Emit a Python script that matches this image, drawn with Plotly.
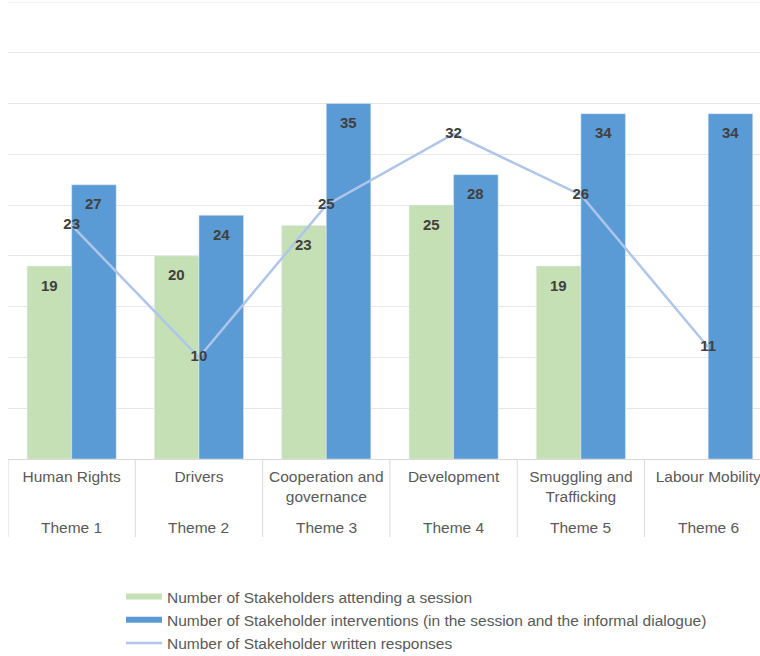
import plotly.graph_objects as go

topics = ["Human Rights", "Drivers", "Cooperation and<br>governance", "Development",
          "Smuggling and<br>Trafficking", "Labour Mobility"]
themes = ["Theme 1", "Theme 2", "Theme 3", "Theme 4", "Theme 5", "Theme 6"]
attending = [19, 20, 23, 25, 19, None]
interventions = [27, 24, 35, 28, 34, 34]
written = [23, 10, 25, 32, 26, 11]

names = ["Number of Stakeholders attending a session",
         "Number of Stakeholder interventions (in the session and the informal dialogue)",
         "Number of Stakeholder written responses"]

GREEN = "#C5E0B4"
BLUE = "#5B9BD5"
LINE = "#AFC5E9"
LABEL = "#404040"
AXIS = "#595959"
GRID = "#E6E6E6"
FONT = "Liberation Sans, Arial, sans-serif"
YMAX = 45

x = list(range(len(topics)))
W = 0.35

fig = go.Figure()
fig.add_trace(go.Bar(x=x, y=attending, width=W, offset=-W, marker_color=GREEN,
                     showlegend=False, name=names[0]))
fig.add_trace(go.Bar(x=x, y=interventions, width=W, offset=0, marker_color=BLUE,
                     showlegend=False, name=names[1]))
fig.add_trace(go.Scatter(x=x, y=written, mode="lines+text", text=[str(v) for v in written],
                         textposition="middle center",
                         textfont=dict(family=FONT, size=15, color=LABEL, weight="bold"),
                         line=dict(color=LINE, width=2.5), showlegend=False, name=names[2]))

# legend entries
for nm, col, w in [(names[0], GREEN, 6), (names[1], BLUE, 6), (names[2], LINE, 2.5)]:
    fig.add_trace(go.Scatter(x=[None], y=[None], mode="lines", name=nm,
                             line=dict(color=col, width=w)))

ann = []
for i, v in enumerate(attending):
    if v is not None:
        ann.append(dict(x=i - W / 2, y=v, xref="x", yref="y", text=f"<b>{v}</b>",
                        showarrow=False, yshift=-19,
                        font=dict(family=FONT, size=15, color=LABEL)))
for i, v in enumerate(interventions):
    ann.append(dict(x=i + W / 2, y=v, xref="x", yref="y", text=f"<b>{v}</b>",
                    showarrow=False, yshift=-19,
                    font=dict(family=FONT, size=15, color=LABEL)))

PH = 457.0
for i, t in enumerate(themes):
    ann.append(dict(x=i, y=(459 - 527) / PH, xref="x", yref="paper", text=t,
                    showarrow=False, yanchor="middle",
                    font=dict(family=FONT, size=15.5, color=AXIS)))

shapes = [dict(type="line", xref="paper", yref="y", x0=0, x1=1, y0=YMAX, y1=YMAX,
               line=dict(color=GRID, width=1), layer="below")]
for i in range(len(topics)):
    shapes.append(dict(type="line", xref="x", yref="paper", x0=i - 0.5, x1=i - 0.5,
                       y0=0, y1=(459 - 537) / PH, line=dict(color="#D9D9D9", width=1)))

fig.update_layout(
    width=760, height=656,
    margin=dict(l=8, r=0, t=2, b=197, autoexpand=False),
    plot_bgcolor="white", paper_bgcolor="white",
    barmode="overlay",
    annotations=ann, shapes=shapes,
    font=dict(family=FONT, color=AXIS),
    legend=dict(x=(121 - 8) / 752, xanchor="left", y=(459 - 580) / PH, yanchor="top",
                font=dict(family=FONT, size=15.5, color=AXIS), itemwidth=36,
                bgcolor="rgba(0,0,0,0)"),
    xaxis=dict(range=[-0.5, 5.407], tickvals=x, ticktext=topics, showgrid=False,
               showline=True, linecolor="#D9D9D9", linewidth=1, ticks="",
               ticklabeloverflow="allow", ticklabelstandoff=3,
               tickfont=dict(family=FONT, size=15.5, color=AXIS), zeroline=False),
    yaxis=dict(range=[0, YMAX], dtick=5, showticklabels=False, showgrid=True,
               gridcolor=GRID, gridwidth=1, zeroline=False, showline=False),
)

fig.write_html("out.html")
